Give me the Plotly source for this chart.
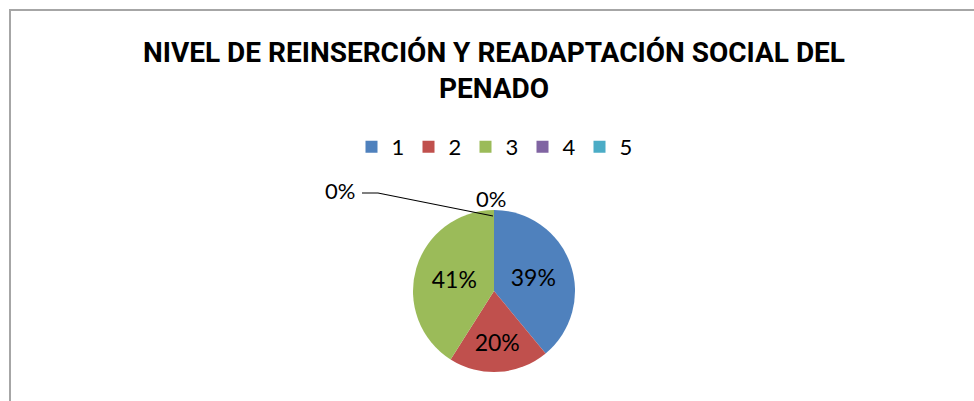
import plotly.graph_objects as go

labels = ["1", "2", "3", "4", "5"]
values = [39, 20, 41, 0, 0]
colors = ["#4F81BD", "#C0504D", "#9BBB59", "#8064A2", "#4BACC6"]
slice_text = ["%{percent:.0%}", "%{percent:.0%}", "%{percent:.0%}", "", ""]
zero_labels = ["0%", "0%"]
title_text = "NIVEL DE REINSERCIÓN Y READAPTACIÓN SOCIAL DEL<br>PENADO"

W, H = 974, 401
def px(x):
    return x / W
def py(y):
    return 1 - y / H

LABEL_FONT = "Lato, Open Sans, sans-serif"

fig = go.Figure()
fig.add_trace(go.Pie(
    labels=labels, values=values, sort=False, direction="clockwise", rotation=0,
    marker=dict(colors=colors, line=dict(width=0)),
    texttemplate=slice_text, textposition="inside", insidetextorientation="horizontal",
    textfont=dict(family=LABEL_FONT, size=23, color="#000000"),
    domain=dict(x=[px(494 - 82), px(494 + 82)], y=[py(372), py(210)]),
    hoverinfo="label+percent",
))

fig.update_layout(
    width=W, height=H,
    margin=dict(l=0, r=0, t=0, b=0),
    paper_bgcolor="white",
    title=dict(text=title_text, x=px(494), xanchor="center", y=py(62), yanchor="top",
               font=dict(family="Roboto, Liberation Sans, sans-serif",
                         size=28, color="#000000", weight="bold")),
    legend=dict(orientation="h", x=px(494), xanchor="center", y=py(126), yanchor="top",
                font=dict(family=LABEL_FONT, size=22, color="#000000"),
                itemwidth=30, entrywidth=12, entrywidthmode="pixels", traceorder="normal"),
    shapes=[
        dict(type="rect", xref="paper", yref="paper", x0=px(10), x1=1.2, y0=-0.2, y1=py(10),
             line=dict(color="#a6a6a6", width=2)),
        dict(type="path", xref="paper", yref="paper",
             path=f"M {px(362)} {py(193)} L {px(378)} {py(193)} L {px(493)} {py(216)}",
             line=dict(color="#000000", width=1.2)),
    ],
    annotations=[
        dict(text=zero_labels[0], x=px(340), y=py(190), xref="paper", yref="paper",
             showarrow=False, font=dict(family=LABEL_FONT, size=22, color="#000")),
        dict(text=zero_labels[1], x=px(491), y=py(198), xref="paper", yref="paper",
             showarrow=False, font=dict(family=LABEL_FONT, size=22, color="#000")),
    ],
)

fig.write_html("out.html", config={"displayModeBar": False},
               post_script="document.body.style.margin='0px';")
